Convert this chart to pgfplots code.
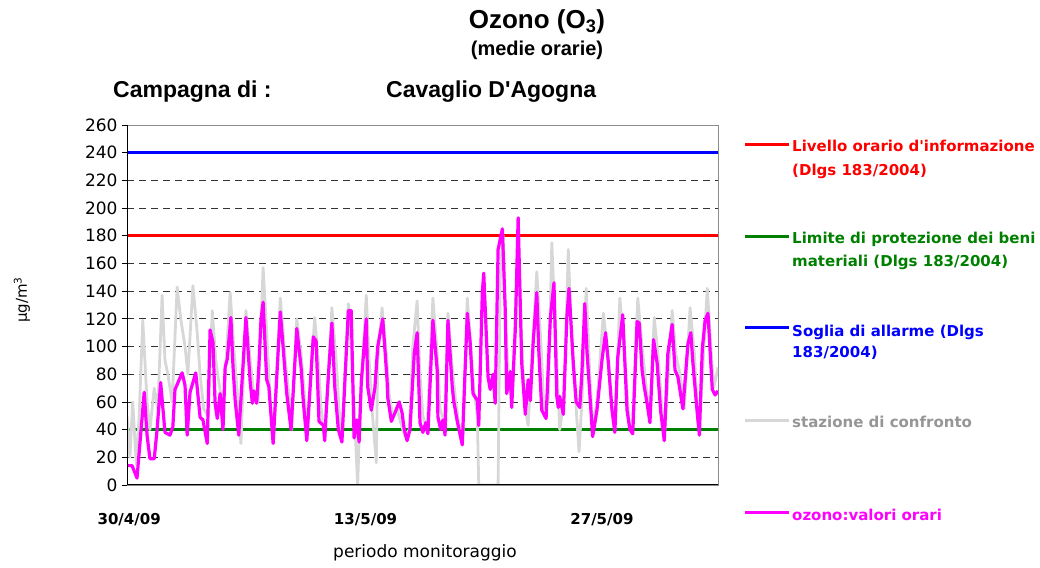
\documentclass[border=0pt]{standalone}
\usepackage{fontspec}
\setmainfont{Liberation Sans}
\newfontfamily\dv{DejaVu Sans}
\usepackage{pgfplots}
\pgfplotsset{compat=1.18}
\definecolor{greyser}{RGB}{215,215,215}
\definecolor{magser}{RGB}{255,0,255}
\definecolor{grnser}{RGB}{0,128,0}
\definecolor{redser}{RGB}{255,0,0}
\definecolor{bluser}{RGB}{0,0,255}
\definecolor{greytxt}{RGB}{150,150,150}
\begin{document}
\begin{tikzpicture}[x=1pt,y=1pt]
\useasboundingbox (0,0) rectangle (1040,567);
\begin{axis}[
  at={(127pt,82pt)}, anchor=south west,
  scale only axis, width=591pt, height=360pt,
  xmin=0, xmax=825, ymin=0, ymax=260,
  ytick={0,20,...,260},
  xtick={3,333,663},
  xticklabels={30/4/09,13/5/09,27/5/09},
  ymajorgrids,
  major grid style={black!80, dash pattern=on 7pt off 5pt, line width=0.7pt},
  axis line style={black!45, line width=0.8pt},
  ytick pos=left, tick align=outside,
  major tick length=5pt,
  ytick style={black, line width=0.7pt},
  xtick style={draw=none},
  yticklabel style={font=\dv\fontsize{17}{17}\selectfont, xshift=-1pt},
  xticklabel style={font=\dv\bfseries\fontsize{15}{15}\selectfont, yshift=-20pt},
  /pgf/number format/assume math mode=true,
]
\addplot[redser, line width=3pt] coordinates {(0,180)(825,180)};
\addplot[grnser, line width=3pt] coordinates {(0,40)(825,40)};
\addplot[bluser, line width=3pt] coordinates {(0,240)(825,240)};
% stazione di confronto
\addplot[greyser, line width=2.8pt, line join=round] coordinates {
(0,50)(4,20)(8,60)(13,15)(17,50)(22,119)(28,60)(32,40)(38,70)(43,55)(49,137)(53,90)(57,80)(63,60)(70,143)(75,120)(81,100)(85,80)(92,144)(98,110)(102,80)(107,55)(113,50)(119,126)(124,90)(128,75)(134,55)(144,139)(149,100)(155,60)(159,30)(166,126)(172,90)(177,65)(183,60)(190,157)(195,110)(200,60)(204,30)(214,135)(221,90)(228,55)(230,40)(237,120)(243,95)(247,70)(251,38)(262,121)(267,90)(271,55)(276,35)(281,80)(286,128)(292,90)(296,55)(300,35)(309,131)(314,90)(318,45)(322,0)(325,50)(334,137)(338,90)(342,55)(348,16)(350,90)(356,128)(362,95)(366,65)(371,50)(377,55)(382,45)(388,35)(394,40)(399,100)(405,133)(409,80)(413,50)(419,40)(427,135)(433,95)(437,55)(443,45)(448,124)(454,85)(459,60)(463,45)(469,35)(475,135)(480,100)(484,70)(489,50)(491,0)(518,0)(521,150)(525,180)(529,110)(533,75)(537,60)(542,120)(546,180)(551,100)(556,55)(560,43)(564,80)(572,154)(578,100)(582,55)(588,60)(593,175)(599,100)(604,40)(610,60)(616,170)(621,100)(627,55)(631,24)(635,60)(641,142)(646,80)(650,42)(656,60)(665,124)(670,100)(676,60)(681,40)(688,135)(695,90)(701,45)(705,37)(713,135)(719,100)(725,70)(730,50)(736,121)(741,95)(747,55)(751,40)(761,126)(766,95)(772,80)(778,55)(786,128)(792,95)(797,45)(801,60)(810,142)(815,100)(819,70)(825,85)
};
% ozono: valori orari
\addplot[magser, line width=3.2pt, line join=round] coordinates {
(0,14)(7,14)(14,5)(24,67)(28,36)(32,19)(38,19)(42,40)(47,74)(53,38)(60,36)(64,42)(67,69)(77,81)(81,72)(84,36)(88,67)(96,81)(102,49)(106,47)(112,30)(116,112)(120,103)(123,59)(126,48)(130,66)(134,40)(137,85)(140,91)(145,121)(148,85)(151,61)(156,36)(166,121)(172,74)(175,59)(177,68)(181,59)(184,85)(187,119)(190,132)(195,76)(198,71)(204,30)(214,125)(223,66)(229,40)(237,113)(243,85)(246,61)(251,32)(260,107)(264,104)(268,46)(274,43)(276,32)(278,52)(281,78)(286,117)(290,71)(295,40)(300,31)(309,126)(313,126)(317,34)(321,47)(324,31)(327,74)(334,120)(336,71)(341,54)(346,70)(350,100)(357,120)(363,76)(364,63)(369,46)(374,52)(380,60)(384,52)(387,40)(391,32)(395,40)(401,95)(405,110)(409,45)(413,38)(417,45)(420,37)(427,119)(433,83)(434,49)(438,40)(441,47)(444,36)(448,119)(454,71)(456,61)(461,46)(468,29)(475,124)(479,103)(483,66)(489,61)(491,43)(496,139)(498,153)(504,78)(507,69)(511,80)(514,59)(518,170)(524,185)(528,126)(530,66)(535,82)(537,56)(542,112)(546,193)(551,88)(556,51)(560,76)(563,61)(567,103)(572,139)(575,95)(579,54)(585,48)(591,121)(596,146)(600,64)(602,56)(604,64)(609,51)(614,121)(617,142)(623,88)(627,60)(632,56)(635,81)(639,131)(642,97)(646,66)(650,35)(656,54)(663,90)(668,110)(672,88)(677,54)(681,38)(685,92)(692,123)(698,54)(702,40)(706,37)(712,118)(715,117)(719,83)(722,71)(726,59)(730,45)(735,105)(740,88)(745,53)(750,32)(755,95)(761,116)(765,83)(769,78)(776,55)(783,102)(787,110)(790,88)(796,52)(799,36)(803,98)(807,119)(811,124)(817,69)(821,65)(825,68)
};
\draw[black, line width=1pt] (rel axis cs:0,1) -- (rel axis cs:0,0) -- (rel axis cs:1,0);
\end{axis}
% titles
\node[inner sep=0, font=\bfseries\fontsize{26}{26}\selectfont] at (537,545) {Ozono (O\textsubscript{3})};
\node[inner sep=0, font=\bfseries\fontsize{20}{20}\selectfont] at (537,517) {(medie orarie)};
\node[inner sep=0, anchor=west, font=\bfseries\fontsize{23}{23}\selectfont] at (113,475) {Campagna di :};
\node[inner sep=0, anchor=west, font=\bfseries\fontsize{23}{23}\selectfont] at (386,475) {Cavaglio D\textquotesingle Agogna};
% axis titles
\node[inner sep=0, rotate=90, font=\dv\fontsize{15}{15}\selectfont] at (22,267) {µg/m\textsuperscript{3}};
\node[inner sep=0, font=\dv\fontsize{17}{17}\selectfont] at (425,14) {periodo monitoraggio};
% legend
\tikzset{legtxt/.style={inner sep=0, anchor=base west, font=\dv\bfseries\fontsize{15}{15}\selectfont}}
\draw[redser, line width=3pt] (745,422) -- (789,422);
\node[legtxt, text=redser] at (792,415) {Livello orario d\textquotesingle informazione};
\node[legtxt, text=redser] at (792,391) {(Dlgs 183/2004)};
\draw[grnser, line width=3pt] (745,330) -- (789,330);
\node[legtxt, text=grnser] at (792,323) {Limite di protezione dei beni};
\node[legtxt, text=grnser] at (792,300) {materiali (Dlgs 183/2004)};
\draw[bluser, line width=3pt] (745,239) -- (789,239);
\node[legtxt, text=bluser] at (792,230) {Soglia di allarme (Dlgs};
\node[legtxt, text=bluser] at (792,209) {183/2004)};
\draw[greyser, line width=3pt, dash pattern=on 1.5pt off 0.5pt] (745,146) -- (789,146);
\node[legtxt, text=greytxt] at (792,139) {stazione di confronto};
\draw[magser, line width=3pt] (745,54) -- (789,54);
\node[legtxt, text=magser] at (792,47) {ozono:valori orari};
\end{tikzpicture}
\end{document}
